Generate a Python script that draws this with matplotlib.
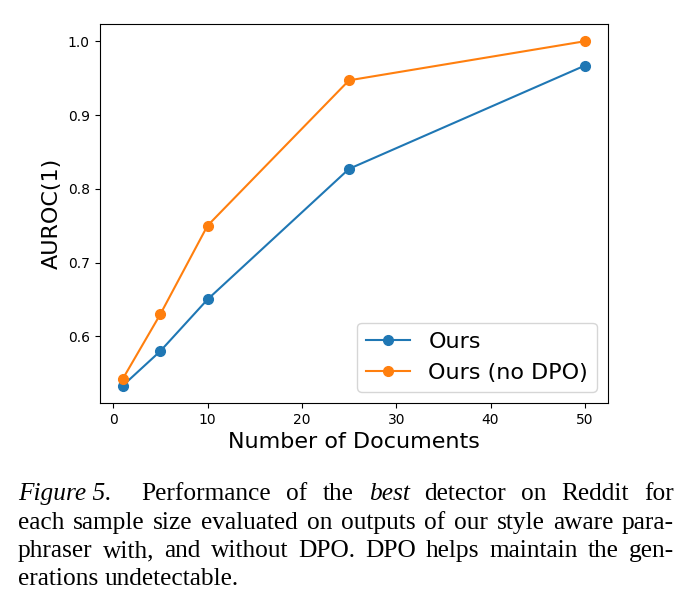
import matplotlib
matplotlib.use("Agg")
import matplotlib.pyplot as plt

# ---- data ----
num_docs = [1, 5, 10, 25, 50]
auroc_ours = [0.533, 0.580, 0.650, 0.827, 0.967]
auroc_no_dpo = [0.542, 0.630, 0.750, 0.947, 1.000]
series_labels = ["Ours", "Ours (no DPO)"]
x_label = "Number of Documents"
y_label = "AUROC(1)"

caption_lines = [
    [("Figure 5.", "italic"), ("Performance", "normal"), ("of", "normal"),
     ("the", "normal"), ("best", "italic"), ("detector", "normal"),
     ("on", "normal"), ("Reddit", "normal"), ("for", "normal")],
    [(w, "normal") for w in "each sample size evaluated on outputs of our style aware para-".split()],
    [(w, "normal") for w in "phraser with, and without DPO. DPO helps maintain the gen-".split()],
    [(w, "normal") for w in "erations undetectable.".split()],
]

W, H = 693, 611
fig = plt.figure(figsize=(W / 100, H / 100), dpi=100)
ax = fig.add_axes([99.5 / W, 1 - 403 / H, (608 - 99.5) / W, (403 - 24) / H])

ax.plot(num_docs, auroc_ours, marker="o", markersize=7, linewidth=1.5,
        color="#1f77b4", label=series_labels[0])
ax.plot(num_docs, auroc_no_dpo, marker="o", markersize=7, linewidth=1.5,
        color="#ff7f0e", label=series_labels[1])
ax.set_xticks([0, 10, 20, 30, 40, 50])
ax.set_yticks([0.6, 0.7, 0.8, 0.9, 1.0])
ax.tick_params(labelsize=10)
ax.set_xlabel(x_label, fontsize=16)
ax.set_ylabel(y_label, fontsize=16)
ax.legend(loc="lower right", fontsize=16)

# ---- caption, justified ----
renderer = fig.canvas.get_renderer()
cap_font = "Liberation Serif"


def width(s, style, size):
    t = fig.text(0, 0, s, fontfamily=cap_font, style=style, fontsize=size)
    w = t.get_window_extent(renderer).width
    t.remove()
    return w


left_px, right_px = 18, 674
line_w = right_px - left_px
ref = caption_lines[1]
base = 10
nat = sum(width(w, s, base) for w, s in ref)
sp = width("a a", "normal", base) - width("aa", "normal", base)
nat += sp * (len(ref) - 1)
size = base * line_w / nat * 0.97

baselines = [500, 529, 557, 585]
for li, (words, by) in enumerate(zip(caption_lines, baselines)):
    ws = [width(w, s, size) for w, s in words]
    gaps = [2.0 if (li == 0 and i == 0) else 1.0 for i in range(len(words) - 1)]
    if li == len(caption_lines) - 1:
        gap_unit = sp * size / base
    else:
        gap_unit = (line_w - sum(ws)) / sum(gaps)
    x = left_px
    for i, ((w, s), ww) in enumerate(zip(words, ws)):
        fig.text(x / W, 1 - by / H, w, fontfamily=cap_font, style=s,
                 fontsize=size, va="baseline", ha="left")
        if i < len(gaps):
            x += ww + gap_unit * gaps[i]

fig.savefig("out.png", dpi=100)
